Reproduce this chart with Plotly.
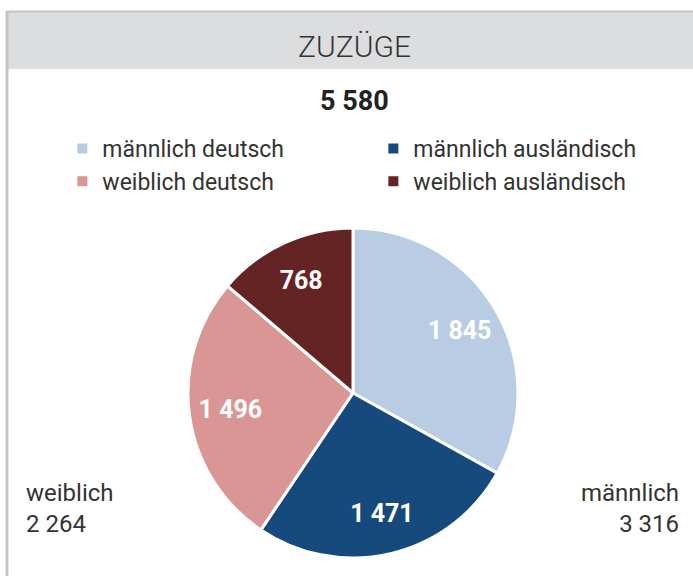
import plotly.graph_objects as go

categories = ["männlich deutsch", "männlich ausländisch", "weiblich deutsch", "weiblich ausländisch"]
values = [1845, 1471, 1496, 768]
colors = ["#b8cce4", "#164a7c", "#da9694", "#632423"]
title_text = "ZUZÜGE"

def fmt(n):
    return f"{n:,}".replace(",", " ")

total = sum(values)
male = values[0] + values[1]
female = values[2] + values[3]

W, H = 693, 576
cx, cy, R = 353, 393, 165
dom = dict(x=[(cx - R) / W, (cx + R) / W], y=[1 - (cy + R) / H, 1 - (cy - R) / H])

fig = go.Figure()
fig.add_trace(go.Pie(
    labels=categories,
    values=values,
    sort=False,
    direction="clockwise",
    rotation=0,
    marker=dict(colors=colors, line=dict(color="white", width=3)),
    textinfo="none",
    hoverinfo="label+value",
    domain=dom,
))
# transparent ring carrying the value labels further out
fig.add_trace(go.Pie(
    labels=categories,
    values=values,
    sort=False,
    direction="clockwise",
    rotation=0,
    hole=0.5,
    showlegend=False,
    marker=dict(colors=["rgba(0,0,0,0)"] * 4, line=dict(width=0)),
    texttemplate="%{value:,}",
    textposition="inside",
    insidetextorientation="horizontal",
    textfont=dict(family="Roboto", size=25, color="white", weight="bold"),
    hoverinfo="skip",
    domain=dom,
))

fig.update_layout(
    width=W, height=H,
    autosize=False,
    margin=dict(l=0, r=0, t=0, b=0, autoexpand=False),
    paper_bgcolor="white",
    separators=", ",
    font=dict(family="Roboto", color="#333333"),
    showlegend=True,
    legend=dict(
        orientation="h", x=0.09, xanchor="left", y=1 - 127 / H, yanchor="top",
        xref="container", yref="container",
        font=dict(family="Roboto", size=23, color="#333333"),
        entrywidth=266, entrywidthmode="pixels",
        itemsizing="constant", tracegroupgap=0,
        bgcolor="rgba(0,0,0,0)",
    ),
    shapes=[
        dict(type="rect", xref="paper", yref="paper", x0=6 / W, x1=1.0, y0=1 - 69 / H, y1=1 - 11 / H,
             fillcolor="#dcdddf", line=dict(width=0), layer="below"),
        dict(type="line", xref="paper", yref="paper", x0=6 / W, x1=1.0, y0=1 - 11.5 / H, y1=1 - 11.5 / H,
             line=dict(color="#c4c5c7", width=2)),
        dict(type="line", xref="paper", yref="paper", x0=7 / W, x1=7 / W, y0=0, y1=1 - 11 / H,
             line=dict(color="#c4c5c7", width=3)),
    ],
    annotations=[
        dict(text=title_text, x=354 / W, y=1 - 47 / H, xref="paper", yref="paper", showarrow=False,
             font=dict(family="Roboto", size=30, color="#333333", weight=300), xanchor="center", yanchor="middle"),
        dict(text=f"<b>{fmt(total)}</b>", x=354 / W, y=1 - 101 / H, xref="paper", yref="paper", showarrow=False,
             font=dict(family="Roboto", size=27, color="#222222"), xanchor="center", yanchor="middle"),
        dict(text=f"weiblich<br>{fmt(female)}", x=24 / W, y=1 - 508 / H, xref="paper", yref="paper",
             showarrow=False, align="left", xanchor="left", yanchor="middle",
             font=dict(family="Roboto", size=24, color="#333333")),
        dict(text=f"männlich<br>{fmt(male)}", x=681 / W, y=1 - 508 / H, xref="paper", yref="paper",
             showarrow=False, align="right", xanchor="right", yanchor="middle",
             font=dict(family="Roboto", size=24, color="#333333")),
    ],
)

fig.write_html(
    "out.html",
    config={"displayModeBar": False, "responsive": False},
    post_script="document.documentElement.style.overflow='hidden';"
                "document.body.style.margin='0';document.body.style.overflow='hidden';",
)
